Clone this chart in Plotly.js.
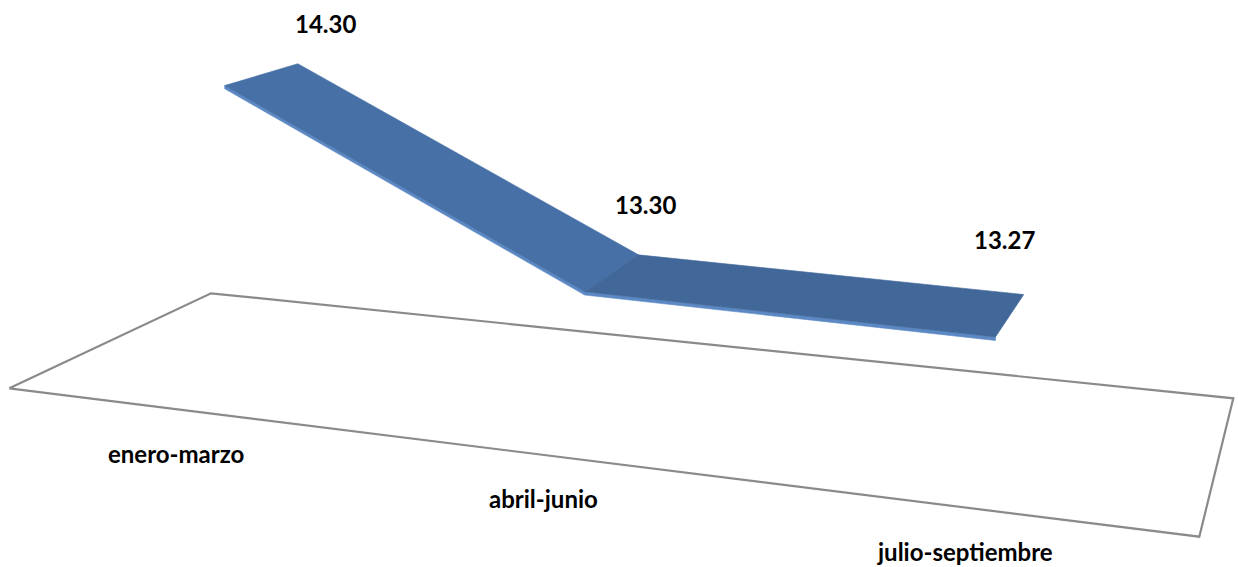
<!DOCTYPE html>
<html>
<head>
<meta charset="utf-8">
<script src="https://cdn.plot.ly/plotly-3.0.1.min.js"></script>
<style>html,body{margin:0;padding:0;background:#fff;}#chart{width:1238px;height:567px;}</style>
</head>
<body>
<div id="chart"></div>
<script>
// ---- data ----
var categories = ['enero-marzo', 'abril-junio', 'julio-septiembre'];
var values = [14.30, 13.30, 13.27];
var valueLabels = ['14.30', '13.30', '13.27'];

// ---- 3D view (floor plane corners on screen, category/depth scale, value scale) ----
var FLOOR = {fl: [9.3, 388.3], fr: [1199.3, 536.7], br: [1233.3, 398.3], bl: [211, 293.3]};
var CAT0 = 0.154, CATSTEP = 0.342;      // ribbon category centres along floor width (0..1)
var LAB0 = 1 / 6, LABSTEP = 1 / 3;      // label slots along floor width
var ZF = 0.3, ZB = 0.7;                  // ribbon depth band (0 front .. 1 back)
var VMIN = 12.62, VSCALE = 175.5;        // value axis: floor value and px per unit
var THICK = 0.018;                       // ribbon thickness (value units)

// square-to-quad homography
var x0 = FLOOR.fl[0], y0 = FLOOR.fl[1], x1 = FLOOR.fr[0], y1 = FLOOR.fr[1];
var x2 = FLOOR.br[0], y2 = FLOOR.br[1], x3 = FLOOR.bl[0], y3 = FLOOR.bl[1];
var dx1 = x1 - x2, dx2 = x3 - x2, dx3 = x0 - x1 + x2 - x3;
var dy1 = y1 - y2, dy2 = y3 - y2, dy3 = y0 - y1 + y2 - y3;
var den = dx1 * dy2 - dx2 * dy1;
var g = (dx3 * dy2 - dx2 * dy3) / den;
var h = (dx1 * dy3 - dx3 * dy1) / den;
var a = x1 - x0 + g * x1, b = x3 - x0 + h * x3, c = x0;
var d = y1 - y0 + g * y1, e = y3 - y0 + h * y3, f = y0;

function proj(X, Z, val) {
  var w = g * X + h * Z + 1;
  return [(a * X + b * Z + c) / w, (d * X + e * Z + f - VSCALE * (val - VMIN)) / w];
}
function catX(i) { return CAT0 + CATSTEP * i; }
function labX(i) { return LAB0 + LABSTEP * i; }

var traces = [];
// floor outline
var floorPts = [[0, 0], [1, 0], [1, 1], [0, 1], [0, 0]].map(function (p) { return proj(p[0], p[1], VMIN); });
traces.push({
  x: floorPts.map(function (p) { return p[0]; }), y: floorPts.map(function (p) { return p[1]; }),
  mode: 'lines', line: {color: '#8a8a8a', width: 2.2}, hoverinfo: 'skip', showlegend: false
});

function poly(pts, color) {
  var xs = pts.map(function (p) { return p[0]; }), ys = pts.map(function (p) { return p[1]; });
  xs.push(xs[0]); ys.push(ys[0]);
  traces.push({x: xs, y: ys, mode: 'lines', fill: 'toself', fillcolor: color,
    line: {color: color, width: 0.6}, hoverinfo: 'skip', showlegend: false});
}

var topColors = ['#4770A6', '#42689A'];
var sideColor = '#5C88C4';
for (var i = 0; i < values.length - 1; i++) {
  var xa = catX(i), xb = catX(i + 1), va = values[i], vb = values[i + 1];
  // front side face
  poly([proj(xa, ZF, va), proj(xb, ZF, vb), proj(xb, ZF, vb - THICK), proj(xa, ZF, va - THICK)], sideColor);
}
for (var i = 0; i < values.length - 1; i++) {
  var xa = catX(i), xb = catX(i + 1), va = values[i], vb = values[i + 1];
  poly([proj(xa, ZF, va), proj(xb, ZF, vb), proj(xb, ZB, vb), proj(xa, ZB, va)], topColors[i]);
}

var annotations = [];
var FONT = {family: 'Lato, "Open Sans", sans-serif', size: 24, color: '#000'};
for (var i = 0; i < values.length; i++) {
  var p = proj(labX(i), 1, values[i]);
  annotations.push({x: p[0] - 33, y: p[1] - 26, text: '<b>' + valueLabels[i] + '</b>', showarrow: false,
    xanchor: 'center', yanchor: 'middle', font: FONT});
  var q = proj(labX(i), 0, VMIN);
  annotations.push({x: q[0], y: q[1] + 44, text: '<b>' + categories[i] + '</b>', showarrow: false,
    xanchor: 'center', yanchor: 'middle', font: FONT});
}

var layout = {
  width: 1238, height: 567,
  margin: {l: 0, r: 0, t: 0, b: 0},
  paper_bgcolor: '#fff', plot_bgcolor: '#fff',
  xaxis: {range: [0, 1238], visible: false, fixedrange: true},
  yaxis: {range: [567, 0], visible: false, fixedrange: true},
  annotations: annotations,
  showlegend: false
};
Plotly.newPlot('chart', traces, layout, {staticPlot: true, displayModeBar: false});
</script>
</body>
</html>
